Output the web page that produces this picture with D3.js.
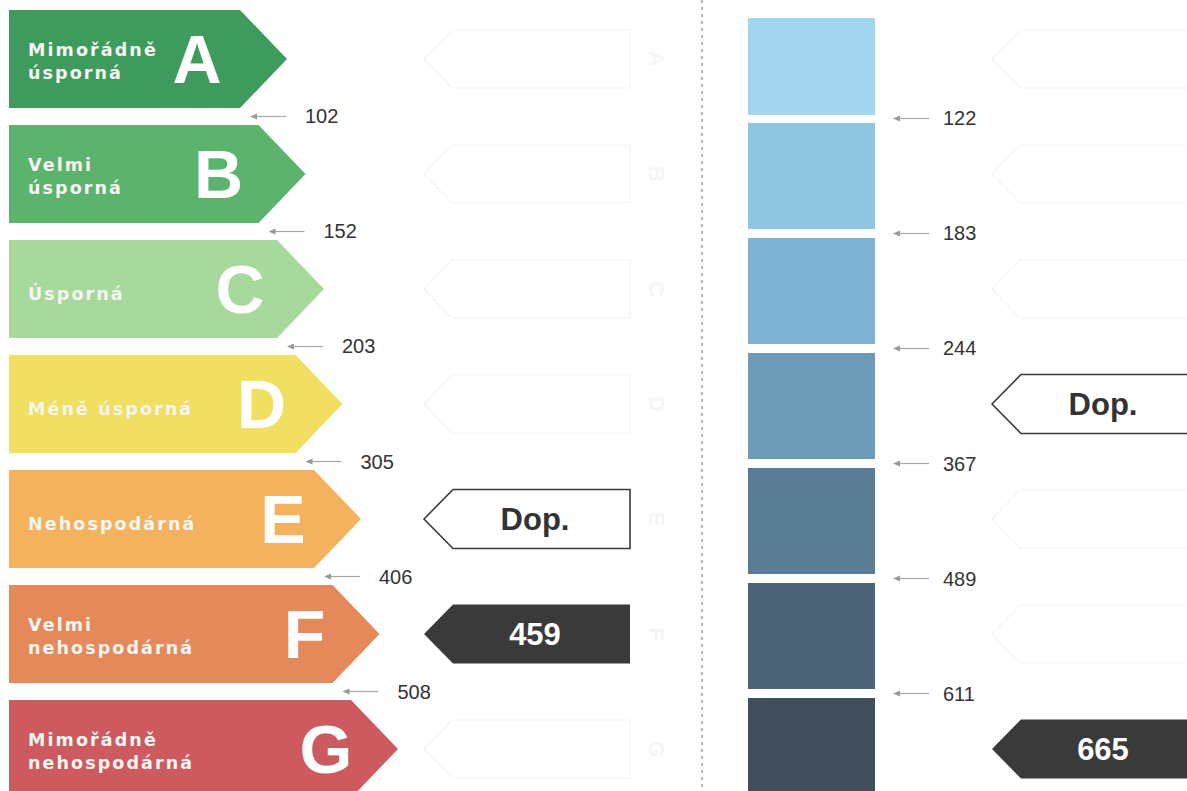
<!DOCTYPE html>
<html>
<head>
<meta charset="utf-8">
<script src="https://cdn.jsdelivr.net/npm/d3@7"></script>
<style>
  html, body { margin: 0; padding: 0; background: #fff; }
  svg { display: block; }
</style>
</head>
<body>
<div id="chart"></div>
<script>
'use strict';

// energy classes (left column)
const classes      = ['A', 'B', 'C', 'D', 'E', 'F', 'G'];
const classLabels  = [
  ['Mimořádně', 'úsporná'],
  ['Velmi', 'úsporná'],
  ['Úsporná'],
  ['Méně úsporná'],
  ['Nehospodárná'],
  ['Velmi', 'nehospodárná'],
  ['Mimořádně', 'nehospodárná']
];
const classColors  = ['#3f9b5d', '#5bb36d', '#a7d99c', '#f1df62', '#f4b25e', '#e5895a', '#cd5a5f'];
const leftBounds   = [102, 152, 203, 305, 406, 508];

// right column (blue scale)
const blueColors   = ['#a2d5ee', '#8fc7e3', '#7eb2d2', '#6c9ab7', '#5a7c95', '#4c6478', '#414e5b'];
const rightBounds  = [122, 183, 244, 367, 489, 611];

// indicators
const leftMarkClass  = ['E', 'F'];
const leftMarkText   = ['Dop.', '459'];
const rightMarkClass = ['D', 'G'];
const rightMarkText  = ['Dop.', '665'];

const width = 1187, height = 791;

const svg = d3.select('#chart').append('svg')
  .attr('width', width)
  .attr('height', height);

// rows
const y = d3.scaleBand()
  .domain(classes)
  .range([10, 798])
  .paddingInner(0.148)
  .paddingOuter(0);
const bh = y.bandwidth();

// tip of each arrow grows to the right
const tip = d3.scaleLinear().domain([0, classes.length - 1]).range([287, 398]);
const tipDepth = 47;
const leftX = 9;

const arrowPath = (i) => {
  const t = y(classes[i]), tx = tip(i);
  return d3.line()([
    [leftX, t], [tx - tipDepth, t], [tx, t + bh / 2], [tx - tipDepth, t + bh], [leftX, t + bh]
  ]) + 'Z';
};

// faint ghost outlines (scan residue of empty boxes)
const ghost = (x0, x1, cy) => {
  const h = 58, d = 28;
  return d3.line()([[x0, cy], [x0 + d, cy - h / 2], [x1, cy - h / 2], [x1, cy + h / 2], [x0 + d, cy + h / 2]]) + 'Z';
};
const gl = svg.append('g').attr('class', 'ghosts');
classes.forEach(c => {
  if (!leftMarkClass.includes(c)) {
    gl.append('path').attr('d', ghost(424, 630, y(c) + bh / 2))
      .attr('fill', 'none').attr('stroke', '#f4f4f4').attr('stroke-width', 1.2)
      .attr('stroke-linejoin', 'round');
  }
  gl.append('text').attr('x', 657).attr('y', y(c) + bh / 2 + 8)
    .attr('text-anchor', 'middle').attr('font-family', 'Liberation Sans, Arial, sans-serif')
    .attr('font-size', 22).attr('font-weight', 'bold').attr('fill', '#f5f5f5')
    .attr('transform', `rotate(90, 657, ${y(c) + bh / 2})`)
    .text(c);
  if (!rightMarkClass.includes(c)) {
    gl.append('path').attr('d', ghost(992, 1200, y(c) + bh / 2))
      .attr('fill', 'none').attr('stroke', '#f4f4f4').attr('stroke-width', 1.2)
      .attr('stroke-linejoin', 'round');
  }
});

// left arrows
const ag = svg.append('g').attr('class', 'arrows');
ag.selectAll('path')
  .data(classes)
  .enter()
  .append('path')
  .attr('d', (d, i) => arrowPath(i))
  .attr('fill', (d, i) => classColors[i]);

// descriptions in arrows
const lbl = svg.append('g').attr('class', 'labels')
  .attr('font-family', 'DejaVu Sans, Verdana, sans-serif')
  .attr('font-weight', 'bold')
  .attr('font-size', 17.5)
  .attr('letter-spacing', 2.1)
  .attr('fill', '#f6f6f2');

classes.forEach((c, i) => {
  const cy = y(c) + bh / 2;
  const lines = classLabels[i];
  const t = lbl.append('text').attr('x', 28);
  if (lines.length === 1) {
    t.attr('y', cy + 11).text(lines[0]);
  } else {
    t.append('tspan').attr('x', 28).attr('y', cy - 3).text(lines[0]);
    t.append('tspan').attr('x', 28).attr('y', cy + 20).text(lines[1]);
  }
});

// big class letters
svg.append('g').attr('class', 'letters')
  .selectAll('text')
  .data(classes)
  .enter()
  .append('text')
  .attr('x', (d, i) => tip(i) - 90 + 3 * i)
  .attr('y', d => y(d) + bh / 2 + 24)
  .attr('text-anchor', 'middle')
  .attr('font-family', 'Liberation Sans, Arial, sans-serif')
  .attr('font-weight', 'bold')
  .attr('font-size', 68)
  .attr('fill', '#fff')
  .text(d => d);

// small pointer with boundary value
const pointer = (g, x0, cy, val, gap) => {
  g.append('line')
    .attr('x1', x0 + 5).attr('x2', x0 + 36).attr('y1', cy).attr('y2', cy)
    .attr('stroke', '#a8a8a8').attr('stroke-width', 1.2);
  g.append('path')
    .attr('d', d3.line()([[x0, cy], [x0 + 7, cy - 3], [x0 + 7, cy + 3]]) + 'Z')
    .attr('fill', '#999');
  g.append('text')
    .attr('x', x0 + gap).attr('y', cy + 7)
    .attr('font-family', 'Liberation Sans, Arial, sans-serif')
    .attr('font-size', 20)
    .attr('fill', '#333')
    .text(val);
};

const bl = svg.append('g').attr('class', 'bounds-left');
leftBounds.forEach((v, i) => {
  const cy = (y(classes[i]) + bh + y(classes[i + 1])) / 2;
  pointer(bl, tip(i) - 37, cy, v, 55);
});

// divider
svg.append('line')
  .attr('x1', 702).attr('x2', 702).attr('y1', 0).attr('y2', height)
  .attr('stroke', '#8a8a8a').attr('stroke-width', 1.2)
  .attr('stroke-dasharray', '3,4');

// right blue blocks
svg.append('g').attr('class', 'blocks')
  .selectAll('rect')
  .data(classes)
  .enter()
  .append('rect')
  .attr('x', 748)
  .attr('width', 127)
  .attr('y', (d, i) => i === 0 ? 18 : y(d) - 2)
  .attr('height', (d, i) => i === 0 ? y(d) + bh + 7 - 18 : bh + 8)
  .attr('fill', (d, i) => blueColors[i]);

const br = svg.append('g').attr('class', 'bounds-right');
rightBounds.forEach((v, i) => {
  const cy = (y(classes[i]) + bh + y(classes[i + 1])) / 2 + 2;
  pointer(br, 893, cy, v, 50);
});

// indicator boxes
const indicator = (x0, x1, c, text) => {
  const cy = y(c) + bh / 2, h = 59, d = 29;
  const dark = !isNaN(+text);
  const g = svg.append('g').attr('class', 'indicator');
  g.append('path')
    .attr('d', d3.line()([[x0, cy], [x0 + d, cy - h / 2], [x1, cy - h / 2], [x1, cy + h / 2], [x0 + d, cy + h / 2]]) + 'Z')
    .attr('fill', dark ? '#3a3a3a' : '#fff')
    .attr('stroke', '#3a3a3a')
    .attr('stroke-width', dark ? 0 : 1.6);
  g.append('text')
    .attr('x', 535 + (x0 - 424))
    .attr('y', cy + 11)
    .attr('text-anchor', 'middle')
    .attr('font-family', 'Liberation Sans, Arial, sans-serif')
    .attr('font-weight', 'bold')
    .attr('font-size', 31)
    .attr('fill', dark ? '#fff' : '#333')
    .text(text);
};

leftMarkClass.forEach((c, i) => indicator(424, 630, c, leftMarkText[i]));
rightMarkClass.forEach((c, i) => indicator(992, 1200, c, rightMarkText[i]));
</script>
</body>
</html>
